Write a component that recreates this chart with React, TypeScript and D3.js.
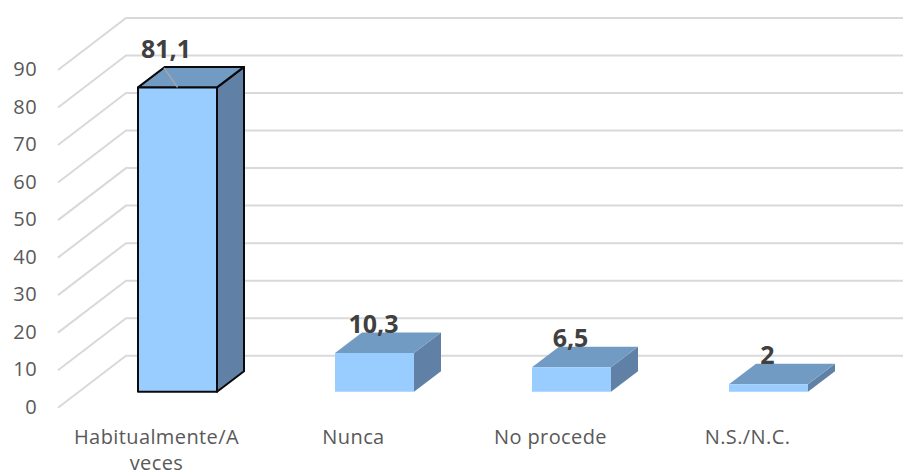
import React from "react";
import * as d3 from "d3";

const categories = ["Habitualmente/A veces", "Nunca", "No procede", "N.S./N.C."];
const values = [81.1, 10.3, 6.5, 2];
const valueLabels = ["81,1", "10,3", "6,5", "2"];
const ticks = [0, 10, 20, 30, 40, 50, 60, 70, 80, 90];

const W = 903, H = 476;
const x = d3.scaleBand<string>().domain(categories).range([58, 846]);
const y = d3.scaleLinear().domain([0, 90]).range([407.7, 70]);
const wallDx = 68, wallDy = -52;
const barShiftX = 21, barShiftY = -16;
const barW = 79, barDx = 27, barDy = -20.5;
const font = "Open Sans, sans-serif";

const poly = (p: number[][]) => d3.line()(p as [number, number][]) + "Z";

export default function App() {
  return (
    <svg width={W} height={H} style={{ position: "absolute", left: 0, top: 0, background: "#fff" }}>
      {ticks.map((t) => (
        <path key={t}
          d={d3.line()([[58, y(t)], [58 + wallDx, y(t) + wallDy], [W, y(t) + wallDy]])!}
          fill="none" stroke="#d9d9d9" strokeWidth={2} />
      ))}
      {ticks.map((t) => (
        <text key={t} x={37} y={y(t) - 1} dy="0.35em" textAnchor="end" fontFamily={font} fontSize={20} letterSpacing={0.4} fill="#595959">{t}</text>
      ))}
      {categories.map((c, i) => {
        const cx = x(c)! + x.bandwidth() / 2;
        const x0 = cx + barShiftX - barW / 2;
        const x1 = x0 + barW;
        const y0 = y(0) + barShiftY;
        const yt = y(values[i]) + barShiftY;
        const outlined = i === 0;
        const st = outlined ? { stroke: "#0a0a0a", strokeWidth: 2, strokeLinejoin: "round" as const } : { stroke: "none" };
        const lines = c === "Habitualmente/A veces" ? ["Habitualmente/A", "veces"] : [c];
        return (
          <g key={c}>
            <path d={poly([[x1, y0], [x1 + barDx, y0 + barDy], [x1 + barDx, yt + barDy], [x1, yt]])} fill="#6080a6" {...st} />
            <path d={poly([[x0, yt], [x1, yt], [x1 + barDx, yt + barDy], [x0 + barDx, yt + barDy]])} fill="#729bc4" {...st} />
            <path d={poly([[x0, y0], [x1, y0], [x1, yt], [x0, yt]])} fill="#99ccff" {...st} />
            {outlined && <line x1={x0 + barDx - 1} y1={yt + barDy + 1} x2={x0 + barW / 2} y2={yt} stroke="#a6a6a6" strokeWidth={1.5} />}
            <text x={outlined ? x0 + barW / 2 - 11.5 : x0 + barW / 2 - 1} y={outlined ? yt - 29 : yt - 20}
              textAnchor="middle" fontFamily={font} fontWeight={700} fontSize={25} fill="#404040">{valueLabels[i]}</text>
            {lines.map((l, k) => (
              <text key={l} x={cx} y={444 + k * 26} textAnchor="middle" fontFamily={font} fontSize={20} letterSpacing={0.4} fill="#595959">{l}</text>
            ))}
          </g>
        );
      })}
    </svg>
  );
}
